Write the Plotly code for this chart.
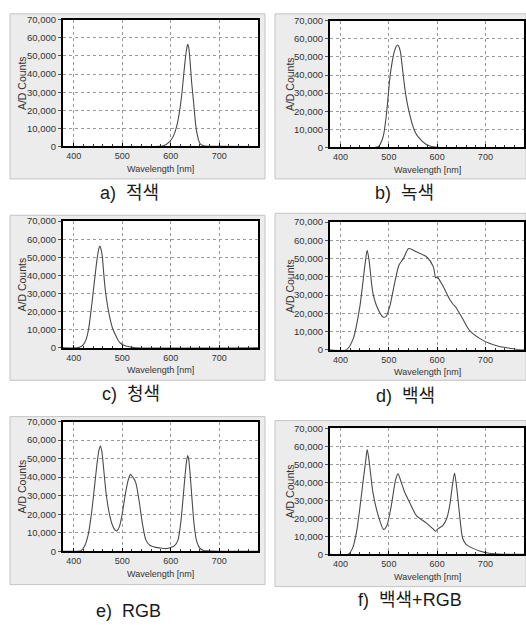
import plotly.graph_objects as go

# ---------------- data ----------------
red_wl = [378, 560, 585, 598, 606, 612, 618, 623, 627, 630, 633, 635, 637, 640, 643, 647, 650, 653, 657, 660, 665, 670, 700, 780]
red_cnt = [0, 0, 400, 2700, 6000, 10800, 19000, 29000, 40000, 48000, 54000, 56500, 55000, 47000, 36000, 25000, 16000, 9000, 4000, 1800, 700, 300, 100, 0]

green_wl = [378, 470, 478, 488, 495, 502, 507, 511, 515, 518, 521, 524, 528, 533, 538, 543, 548, 553, 558, 564, 570, 577, 584, 591, 600, 780]
green_cnt = [0, 0, 400, 5800, 18400, 38300, 47500, 52700, 55800, 56600, 55500, 52700, 44000, 32800, 24500, 18400, 13300, 9400, 6800, 4900, 3200, 1800, 900, 400, 100, 0]

blue_wl = [378, 405, 412, 420, 426, 431, 436, 441, 445, 449, 452, 454, 456, 459, 462, 465, 470, 475, 480, 486, 491, 496, 503, 510, 523, 780]
blue_cnt = [0, 0, 300, 1800, 5000, 10800, 21000, 32500, 42000, 50500, 55000, 56300, 55000, 50500, 41000, 32500, 23000, 16200, 11000, 7200, 4500, 2700, 1500, 900, 200, 0]

white_wl = [378, 412, 426, 440, 450, 455, 459, 467, 478, 488, 494, 502, 512, 521, 530, 541, 557, 578, 592, 597, 600, 612, 626, 633, 638, 653, 667, 688, 708, 729, 750, 763, 780]
white_cnt = [0, 0, 6000, 24000, 45600, 54600, 49000, 31000, 22000, 18000, 18200, 24000, 36700, 46500, 50000, 55500, 53700, 51000, 45600, 39400, 40000, 35000, 27700, 25000, 23600, 17000, 10700, 6300, 3600, 1800, 900, 300, 0]

rgb_wl = [378, 405, 415, 422, 430, 437, 443, 448, 452, 455, 458, 462, 467, 473, 480, 485, 489, 494, 500, 506, 512, 517, 522, 528, 535, 542, 549, 557, 566, 577, 590, 600, 608, 615, 621, 626, 630, 633, 635, 637, 640, 644, 648, 653, 658, 662, 668, 675, 700, 780]
rgb_cnt = [0, 0, 300, 2500, 9000, 21000, 35000, 47000, 54500, 56800, 54000, 44000, 31000, 21000, 14000, 11500, 11000, 13000, 20000, 30000, 38000, 41500, 40000, 37000, 27000, 14500, 6000, 3200, 2300, 1800, 1400, 2000, 3000, 6000, 16000, 30000, 42000, 49000, 51700, 50000, 42000, 28000, 15000, 6000, 2500, 1200, 400, 200, 0, 0]

wrgb_wl = [378, 416, 425, 433, 440, 447, 452, 455, 458, 462, 467, 478, 489, 496, 505, 514, 519, 526, 533, 543, 557, 578, 591, 597, 602, 612, 620, 626, 631, 636, 641, 646, 653, 660, 667, 688, 708, 736, 780]
wrgb_cnt = [0, 0, 3500, 12400, 26000, 41500, 52000, 58300, 54000, 45200, 34300, 21500, 13800, 16000, 27000, 41500, 44700, 39700, 34300, 28800, 21500, 17300, 14200, 12800, 14200, 16000, 20000, 27000, 37000, 45200, 36000, 23300, 8700, 5500, 4200, 1800, 500, 0, 0]

series = [red_wl, green_wl, blue_wl, white_wl, rgb_wl, wrgb_wl]
values = [red_cnt, green_cnt, blue_cnt, white_cnt, rgb_cnt, wrgb_cnt]
captions = ["a)  적색", "b)  녹색", "c)  청색", "d)  백색", "e)  RGB", "f)  백색+RGB"]

x_ticks = [400, 500, 600, 700]
x_range = [378, 780]
y_range = [0, 70000]

# ---------------- layout geometry (pixels) ----------------
W, H = 526, 625
# plot area: x0, x1, y0(top), y1(bottom)
plots = [
    (63, 258, 14, 143),
    (330, 524, 15, 144),
    (63, 258, 219, 348),
    (330, 524, 220, 350),
    (63, 258, 423, 555),
    (330, 524, 430, 558),
]
# grey panel backgrounds
bgs = [
    (10, 265, 8, 176),
    (275, 526, 8, 176),
    (10, 265, 213, 381),
    (275, 526, 211, 381),
    (10, 265, 418, 589),
    (275, 526, 422, 591),
]
cap_pos = [(129, 190), (404, 190), (131, 395), (405, 397), (128, 616), (410, 605)]
ytitle_x = [22, 290, 22, 290, 22, 290]


def px(x):
    return x / W


def py(y):
    return 1 - y / H


fig = go.Figure()
shapes = []
annotations = []
FONT = "Liberation Sans, Arial, Noto Sans CJK KR"

for b in bgs:
    shapes.append(dict(type="rect", xref="paper", yref="paper", layer="below",
                       x0=px(b[0]), x1=px(b[1]), y0=py(b[3]), y1=py(b[2]),
                       fillcolor="#ececec", line=dict(color="#c4c4c4", width=1)))
for p in plots:
    shapes.append(dict(type="rect", xref="paper", yref="paper", layer="below",
                       x0=px(p[0]), x1=px(p[1]), y0=py(p[3]), y1=py(p[2]),
                       fillcolor="white", line=dict(width=0)))

for i, (p, wl, cnt) in enumerate(zip(plots, series, values)):
    n = "" if i == 0 else str(i + 1)
    fig.add_trace(go.Scatter(x=wl, y=cnt, mode="lines",
                             line=dict(color="#4a4a4a", width=1.1, shape="spline", smoothing=0.7),
                             xaxis="x" + n, yaxis="y" + n, showlegend=False, hoverinfo="skip"))
    fig.layout["xaxis" + n] = dict(
        domain=[px(p[0]), px(p[1])], range=x_range, anchor="y" + n,
        tickvals=x_ticks, ticks="inside", ticklen=3, tickcolor="black",
        minor=dict(dtick=20, tick0=0, ticks="inside", ticklen=2, tickcolor="#333", showgrid=False),
        showgrid=True, gridcolor="#9a9a9a", griddash="3px,3px", gridwidth=1,
        showline=True, linecolor="black", linewidth=2, mirror=True, zeroline=False,
        tickfont=dict(family=FONT, size=9, color="#333"), ticklabelstandoff=0,
        fixedrange=True)
    fig.layout["yaxis" + n] = dict(
        domain=[py(p[3]), py(p[2])], range=y_range, anchor="x" + n,
        dtick=10000, tick0=0, tickformat=",d", ticks="outside", ticklen=3, tickcolor="#555",
        showgrid=True, gridcolor="#9a9a9a", griddash="3px,3px", gridwidth=1,
        showline=True, linecolor="black", linewidth=2, mirror=True, zeroline=False,
        tickfont=dict(family=FONT, size=9.5, color="#333"),
        fixedrange=True)
    # axis titles
    annotations.append(dict(text="A/D Counts", xref="paper", yref="paper",
                            x=px(ytitle_x[i]), y=py((p[2] + p[3]) / 2), textangle=-90,
                            showarrow=False, xanchor="center", yanchor="middle",
                            font=dict(family=FONT, size=10.5, color="#333")))
    annotations.append(dict(text="Wavelength [nm]", xref="paper", yref="paper",
                            x=px((p[0] + p[1]) / 2), y=py(p[3] + 23),
                            showarrow=False, xanchor="center", yanchor="middle",
                            font=dict(family=FONT, size=9, color="#333")))
    cx, cy = cap_pos[i]
    annotations.append(dict(text=captions[i], xref="paper", yref="paper",
                            x=px(cx), y=py(cy), showarrow=False,
                            xanchor="center", yanchor="middle",
                            font=dict(family=FONT, size=18, color="#1a1a1a")))

fig.update_layout(width=W, height=H, margin=dict(l=0, r=0, t=0, b=0),
                  paper_bgcolor="white", plot_bgcolor="rgba(0,0,0,0)",
                  shapes=shapes, annotations=annotations, showlegend=False)

fig.write_html("out.html", config={"displayModeBar": False},
               post_script="document.body.style.margin='0';document.body.style.padding='0';"
                           "document.body.style.overflow='hidden';")
